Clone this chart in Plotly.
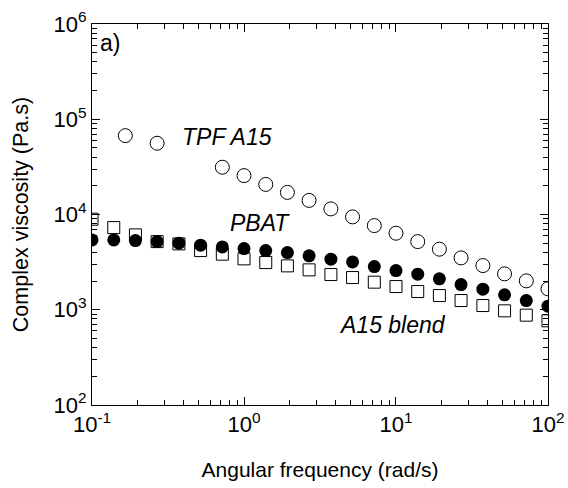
import numpy as np
import plotly.graph_objects as go

# Angular frequency grid (rad/s), 7 points per decade
freq = [0.1, 0.139, 0.193, 0.268, 0.373, 0.518, 0.720, 1.0, 1.39, 1.93, 2.68,
        3.73, 5.18, 7.20, 10.0, 13.9, 19.3, 26.8, 37.3, 51.8, 72.0, 100.0]

pbat = [5414, 5414, 5323, 5194, 4997, 4762, 4571, 4387, 4180, 3983, 3678,
        3396, 3181, 2840, 2578, 2364, 2110, 1838, 1645, 1433, 1249, 1091]

blend = [8928, 7287, 6108, 5194, 4914, 4180, 3832, 3421, 3128, 2888, 2622,
         2341, 2177, 1948, 1751, 1552, 1409, 1249, 1107, 974, 877, 765]

tpf_freq = [0.1656, 0.268, 0.720, 1.0, 1.39, 1.93, 2.68, 3.73, 5.18, 7.20,
            10.0, 13.9, 19.3, 26.8, 37.3, 51.8, 72.0, 100.0]
tpf = [67300, 56000, 31360, 25600, 20690, 17060, 14060, 11450, 9437, 7646,
       6364, 5194, 4324, 3504, 2909, 2381, 2010, 1657]

x_tickvals = [0.1, 1, 10, 100]
x_ticktext = ["10<sup>-1</sup>", "10<sup>0</sup>", "10<sup>1</sup>", "10<sup>2</sup>"]
y_tickvals = [1e2, 1e3, 1e4, 1e5, 1e6]
y_ticktext = ["10<sup>2</sup>", "10<sup>3</sup>", "10<sup>4</sup>", "10<sup>5</sup>", "10<sup>6</sup>"]

FONT = "Arial, Liberation Sans, sans-serif"

fig = go.Figure()
fig.add_trace(go.Scatter(x=tpf_freq, y=tpf, mode="markers", name="TPF A15",
                         marker=dict(symbol="circle-open", size=14, color="black",
                                     line=dict(width=1, color="black"))))
fig.add_trace(go.Scatter(x=freq, y=blend, mode="markers", name="A15 blend",
                         marker=dict(symbol="square-open", size=12, color="black",
                                     line=dict(width=1, color="black"))))
fig.add_trace(go.Scatter(x=freq, y=pbat, mode="markers", name="PBAT",
                         marker=dict(symbol="circle", size=13, color="black",
                                     line=dict(width=0))))

axis_common = dict(
    type="log", tickmode="array", automargin=False,
    ticks="inside", ticklen=8, tickwidth=1, tickcolor="black",
    showline=True, linecolor="black", linewidth=1, mirror="allticks",
    showgrid=False, zeroline=False,
    tickfont=dict(family=FONT, size=22, color="black"),
    minor=dict(ticks="inside", ticklen=5, tickwidth=1, tickcolor="black",
               dtick="D1", showgrid=False),
)

fig.update_xaxes(range=[-1.0002, 2.0002], tickvals=x_tickvals, ticktext=x_ticktext,
                 **axis_common,
                 title=dict(text="Angular frequency (rad/s)",
                            font=dict(family=FONT, size=21, color="black"),
                            standoff=25))
fig.update_yaxes(range=[1.9998, 6.0002], tickvals=y_tickvals, ticktext=y_ticktext,
                 **axis_common,
                 title=dict(text="Complex viscosity (Pa.s)",
                            font=dict(family=FONT, size=21.5, color="black"),
                            standoff=19))

ann_font = dict(family=FONT, size=23, color="black")
for txt, x, y in [("<i>TPF A15</i>", 0.192, 0.704),
                  ("<i>PBAT</i>", 0.299, 0.477),
                  ("<i>A15 blend</i>", 0.537, 0.21)]:
    fig.add_annotation(text=txt, x=x, y=y, xref="paper", yref="paper",
                       xanchor="left", yanchor="middle", showarrow=False,
                       font=ann_font)
fig.add_annotation(text="a)", x=0.014, y=0.949, xref="paper", yref="paper",
                   xanchor="left", yanchor="middle", showarrow=False,
                   font=ann_font)

fig.update_layout(
    width=568, height=488,
    margin=dict(l=92, r=20, t=24, b=83),
    paper_bgcolor="white", plot_bgcolor="white",
    showlegend=False,
    font=dict(family=FONT, color="black"),
)

fig.write_html("out.html")
